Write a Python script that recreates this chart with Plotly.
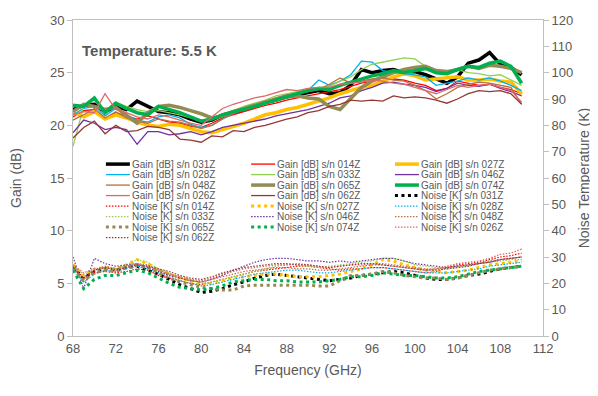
import plotly.graph_objects as go

# frequency points (GHz)
FREQ_GHZ = [68, 69, 70, 71, 72, 73, 74, 75, 76, 77, 78, 79, 80, 81, 82, 83, 84, 85, 86, 87, 88,
            89, 90, 91, 92, 93, 94, 95, 96, 97, 98, 99, 100, 101, 102, 103, 104, 105, 106, 107,
            108, 109, 110]

# gain [dB] per serial number
GAIN_031Z = [21.5, 21.9, 22.0, 21.3, 21.8, 21.5, 22.3, 21.8, 21.3, 21.2, 21.0, 20.6, 20.3, 20.5, 21.0,
             21.2, 21.5, 21.8, 22.2, 22.4, 22.7, 22.9, 23.1, 23.3, 23.0, 23.1, 23.8, 25.3, 25.0, 25.2,
             25.3, 25.0, 25.1, 24.8, 24.4, 24.0, 24.6, 25.9, 26.2, 26.9, 25.8, 25.5, 24.8]
GAIN_014Z = [20.8, 21.4, 21.5, 20.6, 21.2, 20.9, 20.6, 20.9, 20.6, 20.3, 20.2, 19.9, 19.8, 20.2, 20.7,
             21.0, 21.3, 21.6, 21.9, 22.1, 22.4, 22.6, 22.8, 23.0, 23.2, 23.4, 23.7, 24.0, 24.2, 24.5,
             24.4, 24.3, 24.0, 23.8, 23.3, 23.5, 24.2, 24.0, 23.8, 23.9, 23.6, 23.4, 23.0]
GAIN_027Z = [21.2, 20.8, 21.3, 20.6, 21.0, 20.7, 20.3, 20.0, 19.9, 20.1, 20.0, 19.7, 19.4, 19.3, 19.6,
             19.9, 20.2, 20.6, 21.0, 21.2, 21.5, 21.7, 22.0, 22.3, 22.6, 23.0, 23.3, 23.6, 23.8, 24.2,
             24.6, 24.9, 24.7, 24.3, 24.4, 24.5, 24.6, 24.3, 24.3, 24.4, 24.2, 24.1, 23.0]
GAIN_028Z = [21.0, 21.6, 21.8, 20.9, 21.6, 21.0, 20.5, 20.3, 20.8, 21.0, 20.7, 20.1, 19.8, 20.0, 20.6,
             21.1, 21.5, 21.8, 22.2, 22.6, 22.9, 23.1, 23.3, 24.3, 23.8, 24.2, 24.8, 26.1, 26.0, 25.2,
             25.0, 24.9, 24.8, 24.6, 23.8, 24.0, 24.2, 24.5, 24.3, 24.5, 24.2, 23.8, 23.3]
GAIN_033Z = [18.0, 21.8, 22.4, 21.4, 22.2, 21.8, 21.5, 21.3, 21.4, 21.2, 21.0, 20.7, 20.5, 20.6, 21.1,
             21.4, 21.8, 22.1, 22.4, 22.8, 23.0, 23.2, 23.4, 23.6, 23.7, 24.2, 24.6, 25.3, 25.8, 26.0,
             26.2, 26.4, 26.3, 25.6, 25.2, 25.0, 25.3, 25.0, 24.9, 24.7, 24.8, 24.3, 23.8]
GAIN_046Z = [19.3, 20.5, 20.2, 19.6, 19.8, 19.6, 18.2, 19.4, 19.4, 19.1, 19.2, 19.4, 19.1, 19.4, 19.8,
             20.0, 20.2, 20.4, 20.6, 20.9, 21.1, 21.3, 21.5, 21.8, 22.1, 22.6, 22.8, 23.3, 23.6, 24.0,
             24.1, 23.9, 23.8, 23.6, 23.2, 23.5, 24.0, 23.8, 23.7, 23.9, 23.5, 23.2, 22.8]
GAIN_048Z = [20.5, 21.0, 21.6, 20.7, 21.3, 20.7, 20.4, 20.2, 20.6, 20.4, 20.3, 20.0, 19.7, 20.0, 20.6,
             21.1, 21.5, 21.9, 22.3, 22.6, 22.9, 23.0, 23.2, 23.4, 23.9, 24.5, 24.0, 24.2, 24.4, 24.5,
             24.3, 24.2, 23.8, 23.3, 22.5, 23.0, 23.6, 23.9, 24.1, 24.0, 23.8, 23.6, 22.0]
GAIN_065Z = [21.3, 22.0, 21.8, 21.5, 21.7, 21.0, 20.2, 21.2, 21.8, 21.9, 21.7, 21.4, 21.1, 20.7, 20.9,
             21.3, 21.6, 21.9, 22.2, 22.4, 22.7, 22.8, 22.6, 22.5, 21.8, 21.5, 22.5, 23.6, 24.2, 24.6,
             25.0, 25.3, 25.5, 25.6, 25.2, 25.1, 25.3, 25.6, 25.4, 25.7, 25.6, 25.4, 25.0]
GAIN_074Z = [21.9, 21.8, 22.6, 21.2, 22.1, 21.6, 21.2, 21.0, 21.8, 21.5, 21.2, 20.8, 20.4, 20.6, 21.0,
             21.3, 21.5, 21.8, 22.1, 22.4, 22.7, 23.0, 23.3, 23.5, 23.4, 23.8, 24.1, 24.4, 24.7, 24.9,
             25.2, 25.0, 25.2, 25.4, 25.0, 24.9, 25.3, 25.6, 25.5, 25.9, 26.1, 25.6, 24.0]
GAIN_026Z = [21.0, 21.3, 21.2, 23.0, 21.5, 21.2, 20.8, 20.6, 21.0, 20.8, 20.5, 20.2, 20.0, 20.8, 21.6,
             22.0, 22.3, 22.6, 22.8, 23.1, 23.4, 23.3, 23.5, 23.6, 23.6, 23.9, 24.0, 24.1, 24.3, 24.2,
             24.0, 23.9, 23.6, 23.3, 23.0, 23.4, 23.8, 23.6, 23.8, 23.9, 23.6, 23.3, 22.2]
GAIN_062Z = [18.8, 19.8, 20.4, 19.2, 20.0, 19.4, 19.5, 19.9, 19.8, 19.6, 18.7, 18.6, 18.4, 19.0, 18.9,
             19.5, 19.4, 19.8, 20.0, 20.3, 20.6, 20.8, 21.2, 21.4, 21.8, 22.0, 22.4, 22.3, 22.4, 22.3,
             22.8, 22.6, 22.7, 22.6, 22.4, 22.1, 22.5, 23.0, 23.3, 23.2, 23.3, 23.0, 22.0]

# noise temperature [K] per serial number
NOISE_031Z = [26.5, 22.0, 24.5, 25.5, 25.0, 26.0, 26.5, 25.0, 23.5, 21.5, 19.5, 18.0, 16.5, 17.0, 18.0,
              19.5, 20.5, 22.0, 23.0, 23.5, 23.0, 22.5, 22.0, 21.5, 21.0, 21.5, 22.0, 23.0, 23.5, 24.0,
              24.5, 24.0, 23.0, 22.0, 21.5, 21.5, 22.0, 23.0, 23.5, 24.5, 25.5, 26.0, 26.5]
NOISE_014Z = [25.5, 22.5, 24.0, 24.5, 24.0, 24.5, 25.5, 25.0, 23.0, 22.0, 21.0, 20.0, 19.5, 20.5, 21.5,
              22.5, 23.5, 24.5, 25.0, 25.5, 26.0, 26.5, 26.5, 26.0, 25.5, 25.0, 25.5, 25.5, 26.0, 26.0,
              25.5, 25.0, 24.5, 24.0, 24.5, 26.0, 27.0, 27.5, 28.0, 29.0, 30.0, 30.5, 31.5]
NOISE_027Z = [27.0, 23.0, 25.5, 26.0, 25.5, 27.0, 29.0, 27.5, 25.0, 23.5, 22.0, 21.0, 19.5, 20.0, 21.0,
              22.0, 22.5, 23.0, 23.5, 23.5, 23.0, 22.5, 22.5, 22.5, 23.0, 23.5, 24.5, 25.5, 27.0, 29.0,
              28.5, 27.0, 26.0, 25.0, 24.5, 24.0, 24.5, 25.0, 26.0, 27.0, 27.5, 28.0, 28.5]
NOISE_028Z = [25.5, 20.5, 23.5, 25.0, 24.5, 25.5, 26.5, 25.5, 24.0, 22.5, 21.0, 20.0, 19.0, 19.5, 20.5,
              21.5, 22.5, 23.5, 24.0, 24.5, 25.0, 25.0, 24.5, 24.0, 24.0, 24.5, 25.0, 25.5, 26.0, 26.0,
              25.5, 25.0, 24.5, 24.0, 24.0, 24.0, 24.5, 25.0, 25.5, 26.5, 27.0, 27.5, 28.0]
NOISE_033Z = [26.0, 23.5, 24.5, 26.0, 25.5, 27.0, 29.0, 28.0, 25.5, 24.0, 22.5, 21.5, 20.0, 20.5, 21.5,
              22.5, 23.5, 24.5, 25.5, 26.5, 27.0, 27.0, 26.5, 26.0, 26.5, 27.0, 27.5, 28.0, 28.5, 29.5,
              29.5, 28.5, 27.0, 26.5, 26.0, 25.5, 26.0, 26.5, 27.5, 28.0, 28.5, 29.0, 29.0]
NOISE_046Z = [30.0, 18.0, 29.5, 27.5, 26.5, 27.0, 27.5, 26.0, 24.5, 23.0, 22.0, 21.0, 20.5, 21.5, 23.0,
              25.0, 26.5, 28.0, 29.0, 29.5, 29.5, 29.0, 28.5, 28.5, 28.0, 28.5, 28.0, 28.5, 29.0, 29.5,
              29.5, 28.5, 27.5, 27.0, 26.5, 26.0, 26.5, 27.0, 27.5, 28.0, 29.0, 29.5, 30.0]
NOISE_048Z = [26.5, 21.5, 25.0, 26.5, 25.5, 26.5, 27.5, 27.0, 25.0, 23.5, 22.0, 21.0, 20.5, 21.5, 22.5,
              23.5, 24.5, 25.0, 25.5, 26.0, 26.0, 25.5, 25.5, 25.0, 25.0, 25.5, 26.0, 26.5, 27.0, 27.0,
              26.5, 26.0, 25.5, 25.0, 25.5, 26.0, 26.5, 27.0, 27.5, 28.5, 29.0, 29.5, 30.0]
NOISE_065Z = [25.5, 21.0, 24.0, 25.0, 24.5, 26.0, 27.0, 26.0, 24.0, 22.0, 20.5, 19.5, 18.5, 18.0, 17.5,
              17.5, 19.0, 19.3, 19.3, 19.5, 19.5, 19.5, 19.3, 19.0, 19.0, 21.0, 23.0, 23.0, 23.5, 24.5,
              24.0, 23.0, 22.5, 22.0, 22.0, 21.5, 22.0, 23.0, 24.0, 25.0, 25.5, 26.0, 26.5]
NOISE_074Z = [25.0, 18.0, 21.5, 23.0, 23.0, 24.0, 25.0, 24.0, 22.0, 20.0, 18.5, 18.0, 17.5, 18.0, 19.0,
              20.5, 21.0, 21.5, 21.5, 21.0, 21.0, 20.5, 20.5, 20.5, 21.0, 21.5, 22.5, 22.5, 23.0, 24.0,
              23.5, 23.0, 23.0, 22.5, 22.0, 22.0, 22.5, 23.5, 24.5, 25.0, 25.5, 26.0, 26.5]
NOISE_026Z = [27.0, 24.0, 25.5, 26.0, 25.0, 26.0, 27.0, 26.5, 25.0, 23.5, 22.5, 21.5, 21.0, 22.0, 23.5,
              24.5, 25.5, 26.0, 26.5, 27.0, 27.0, 27.5, 27.0, 26.5, 26.0, 26.5, 27.0, 27.0, 27.5, 27.5,
              27.0, 26.5, 26.0, 25.5, 25.5, 26.5, 27.5, 28.0, 28.5, 29.5, 31.0, 31.5, 33.0]
NOISE_062Z = [26.0, 22.0, 25.0, 26.0, 25.0, 26.0, 27.0, 26.5, 25.5, 24.5, 23.0, 22.0, 21.5, 22.5, 24.0,
              25.0, 26.0, 26.5, 27.0, 27.5, 27.5, 27.0, 27.0, 26.5, 26.0, 26.5, 27.0, 27.5, 27.5, 27.0,
              26.5, 26.0, 25.5, 25.0, 25.0, 25.5, 26.0, 26.5, 27.5, 28.0, 29.0, 29.5, 30.0]

SERIALS = ['031Z', '014Z', '027Z', '028Z', '033Z', '046Z', '048Z', '065Z', '074Z', '026Z', '062Z']
GAINS = [GAIN_031Z, GAIN_014Z, GAIN_027Z, GAIN_028Z, GAIN_033Z, GAIN_046Z, GAIN_048Z,
         GAIN_065Z, GAIN_074Z, GAIN_026Z, GAIN_062Z]
NOISES = [NOISE_031Z, NOISE_014Z, NOISE_027Z, NOISE_028Z, NOISE_033Z, NOISE_046Z, NOISE_048Z,
          NOISE_065Z, NOISE_074Z, NOISE_026Z, NOISE_062Z]

COLORS = {
    '031Z': '#000000', '014Z': '#FF0000', '027Z': '#FFC000', '028Z': '#00B0F0',
    '033Z': '#92D050', '046Z': '#7030A0', '048Z': '#B8703E', '065Z': '#948A54',
    '074Z': '#00B050', '026Z': '#D9696A', '062Z': '#953735',
}
THICK = {'031Z', '027Z', '065Z', '074Z'}

TEXT = '#595959'
AXIS = '#BFBFBF'
FONT = 'Liberation Sans, Arial, sans-serif'

fig = go.Figure()

entries = []
for sn, g in zip(SERIALS, GAINS):
    w = 3.5 if sn in THICK else 1.3
    line = dict(color=COLORS[sn], width=w)
    fig.add_trace(go.Scatter(x=FREQ_GHZ, y=g, mode='lines', line=line,
                             name='Gain [dB] s/n ' + sn, showlegend=False, yaxis='y'))
    entries.append(('Gain [dB] s/n ' + sn, line))

for sn, n in zip(SERIALS, NOISES):
    if sn in THICK:
        line = dict(color=COLORS[sn], width=3, dash='3px,3.5px')
    else:
        line = dict(color=COLORS[sn], width=1.2, dash='1.5px,1.5px')
    fig.add_trace(go.Scatter(x=FREQ_GHZ, y=n, mode='lines', line=line,
                             name='Noise [K] s/n ' + sn, showlegend=False, yaxis='y2'))
    entries.append(('Noise [K] s/n ' + sn, line))

# three-column legend drawn inside the plot area (paper coordinates)
col_x = [0.070, 0.379, 0.685]
swatch = 0.051
row_y0 = 0.544
row_dy = 0.0332
shapes = []
annotations = []
for i, (label, line) in enumerate(entries):
    r, c = divmod(i, 3)
    y = row_y0 - r * row_dy
    x0 = col_x[c]
    shapes.append(dict(type='line', xref='paper', yref='paper', x0=x0, x1=x0 + swatch,
                       y0=y, y1=y, line=line))
    annotations.append(dict(xref='paper', yref='paper', x=x0 + swatch, y=y, text=label,
                            showarrow=False, xanchor='left', yanchor='middle',
                            font=dict(size=10, color=TEXT)))

annotations.append(dict(xref='paper', yref='paper', x=0.015, y=0.905, text='<b>Temperature: 5.5 K</b>',
                        showarrow=False, xanchor='left', yanchor='middle',
                        font=dict(size=15, color=TEXT)))

fig.update_layout(
    width=598, height=396,
    margin=dict(l=65, r=63, t=12, b=68),
    paper_bgcolor='white', plot_bgcolor='white',
    font=dict(family=FONT, color=TEXT, size=13),
    showlegend=False,
    shapes=shapes,
    annotations=annotations,
    xaxis=dict(
        range=[68, 112], dtick=4, tick0=68, automargin=False,
        showgrid=False, zeroline=False,
        showline=True, mirror=True, linecolor=AXIS, linewidth=1,
        ticks='', tickfont=dict(size=13, color=TEXT),
        title=dict(text='Frequency (GHz)', font=dict(size=14, color=TEXT), standoff=10),
    ),
    yaxis=dict(
        range=[0, 30], dtick=5, automargin=False,
        showgrid=False, zeroline=False,
        showline=True, linecolor=AXIS, linewidth=1,
        ticks='outside', ticklen=5, tickcolor=AXIS,
        tickfont=dict(size=13, color=TEXT),
        title=dict(text='Gain (dB)', font=dict(size=14, color=TEXT), standoff=26),
    ),
    yaxis2=dict(
        range=[0, 120], dtick=10, overlaying='y', side='right', automargin=False,
        showgrid=False, zeroline=False,
        showline=True, linecolor=AXIS, linewidth=1,
        ticks='outside', ticklen=5, tickcolor=AXIS,
        tickfont=dict(size=13, color=TEXT),
        title=dict(text='Noise Temperature (K)', font=dict(size=14, color=TEXT), standoff=6),
    ),
)

fig.write_html("out.html")
